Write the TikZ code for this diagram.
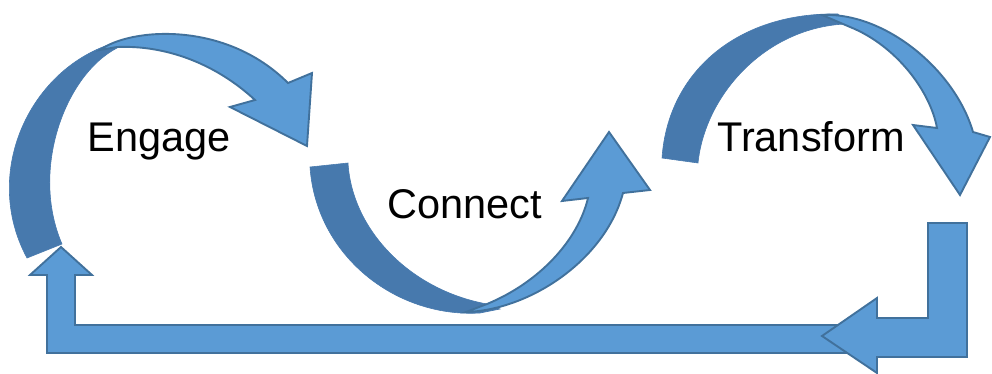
\documentclass[tikz,border=0pt]{standalone}
\usepackage{fontspec}
\setmainfont{Liberation Sans}
\definecolor{lightblue}{HTML}{5B9BD5}
\definecolor{darkblue}{HTML}{4779AD}
\definecolor{edgeblue}{HTML}{41719C}
\begin{document}
\begin{tikzpicture}[x=1pt,y=-1pt,
  lightpart/.style={fill=lightblue,draw=edgeblue,line width=1.9pt,line join=miter},
  darkpart/.style={fill=darkblue,draw=darkblue,line width=0.6pt},
  lbl/.style={font=\fontsize{41.5}{48}\selectfont,text=black,inner sep=0pt,anchor=base}]
\useasboundingbox (0,0) rectangle (992,374);
% ---- bottom return arrow (left L, pointing up)
\filldraw[lightpart] (47,353) -- (862,353) -- (862,325) -- (75,325) -- (75,275) -- (92,275)
  -- (61,247) -- (30,275) -- (47,275) -- cycle;
% ---- right bent arrow (down then left)
\filldraw[lightpart] (928,223) -- (967,223) -- (967,357) -- (877,357) -- (877,373)
  -- (822,336) -- (877,298) -- (877,318) -- (928,318) -- cycle;
% ---- Engage arrow
\fill[darkpart] (27,258) .. controls (-24,163) and (42,47) .. (140,38)
  -- (117,48)
  .. controls (65,75) and (30,170) .. (62,244) -- cycle;
\filldraw[lightpart] (100,50) .. controls (130,28) and (225,20) .. (288,83)
  -- (312,73) -- (307,146) -- (230,107) -- (255,100)
  .. controls (215,63) and (165,45) .. (117,47) -- cycle;
% ---- Connect arrow
\fill[darkpart] (310,167) .. controls (316,255) and (395,318) .. (480,313)
  -- (500,309) -- (487,304)
  .. controls (410,290) and (352,230) .. (348,163) -- cycle;
\filldraw[lightpart] (466,312) .. controls (530,310) and (605,260) .. (623,193)
  -- (650,190) -- (609,132) -- (562,201) -- (588,198)
  .. controls (578,240) and (540,282) .. (487,304) -- cycle;
% ---- Transform arrow
\fill[darkpart] (662,158) .. controls (668,70) and (740,12) .. (838,14)
  -- (845,24)
  .. controls (765,28) and (705,95) .. (698,163) -- cycle;
\filldraw[lightpart] (822,15) .. controls (885,12) and (955,70) .. (973,132)
  -- (990,137) -- (960,195) -- (913,125) -- (937,128)
  .. controls (930,90) and (895,45) .. (850,27) -- cycle;
% ---- labels
\node[lbl] (engage) at (159,152) {Engage};
\node[lbl] (connect) at (465,218) {Connect};
\node[lbl] (transform) at (811,152) {Transform};
\end{tikzpicture}
\end{document}
